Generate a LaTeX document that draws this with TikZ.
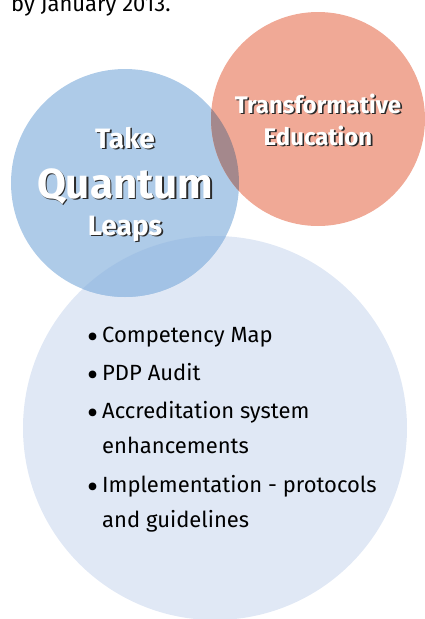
\documentclass[tikz,border=0pt]{standalone}
\usepackage{fontspec}
\setmainfont{Fira Sans}
\definecolor{leapblue}{HTML}{AECBE8}
\definecolor{eduorange}{HTML}{F0A996}
\definecolor{listblue}{HTML}{E0E8F5}
\definecolor{mixbrown}{HTML}{A4888C}
\definecolor{mixblue}{HTML}{A2C2E5}
\definecolor{shadowgray}{HTML}{2A2A2A}

\begin{document}
\begin{tikzpicture}[
    x=1pt, y=-1pt, % pixel-like units, (0,0) top left
    head/.style={font=\bfseries, text=white, inner sep=0pt, anchor=base},
    headshadow/.style={head, text=shadowgray},
    item/.style={font=\fontsize{22}{26}\selectfont, inner sep=0pt, anchor=base west}
]
\useasboundingbox (0,0) rectangle (424,619);
\def\rleap{114}
\def\redu{107}
\def\rlist{192}
% circles
\fill[listblue] (215,428) circle (\rlist);
\fill[leapblue] (125,183) circle (\rleap);
\begin{scope}
  \clip (125,183) circle (\rleap);
  \fill[mixblue] (215,428) circle (\rlist);
\end{scope}
\fill[eduorange] (318,119) circle (\redu);
\begin{scope}
  \clip (125,183) circle (\rleap);
  \fill[mixbrown] (318,119) circle (\redu);
\end{scope}
% headings with drop shadow
\foreach \txt/\px/\py/\sz [count=\k] in {Take/125/148/28, Quantum/125/198/42, Leaps/125/235/28,
    Transformative/318/113/24, Education/318/145/24} {
  \node[headshadow, font=\bfseries\fontsize{\sz}{\sz}\selectfont] at (\px+1.6,\py+1.6) {\txt};
  \node[head, font=\bfseries\fontsize{\sz}{\sz}\selectfont] (h\k) at (\px,\py) {\txt};
}
% top line of text
\node[item] (intro) at (11,11) {by January 2013.};
% list
\node[item] (b1) at (102,342) {Competency Map};
\node[item] (b2) at (102,380) {PDP Audit};
\node[item] (b3) at (102,418) {Accreditation system};
\node[item] (b3b) at (102,453) {enhancements};
\node[item] (b4) at (102,492) {Implementation - protocols};
\node[item] (b4b) at (102,527) {and guidelines};
\foreach \b in {b1,b2,b3,b4}
  \node[item, font=\fontsize{34}{34}\selectfont, anchor=base east] at ([xshift=-3pt,yshift=-6pt]\b.base west) {•};
\end{tikzpicture}
\end{document}
